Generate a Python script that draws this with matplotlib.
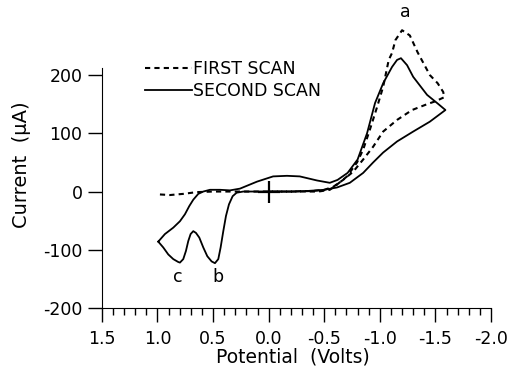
import numpy as np
import matplotlib
matplotlib.use('Agg')
import matplotlib.pyplot as plt
from matplotlib.ticker import MultipleLocator

plt.rcParams['axes.unicode_minus'] = False

# Primeira varredura (tracejada): potencial (V) e corrente (uA)
pot_primeira = [0.978, 0.888, 0.768, 0.648, 0.50, 0.30, 0.10, -0.10, -0.30,
                -0.45, -0.55, -0.615, -0.705, -0.795, -0.85, -0.91, -0.975,
                -1.03, -1.08, -1.11, -1.14, -1.20, -1.27, -1.34, -1.45, -1.52,
                -1.57, -1.58, -1.50, -1.425, -1.29, -1.155, -1.03, -0.94,
                -0.85, -0.76, -0.67, -0.58, -0.50, -0.40, -0.20, 0.0]
cor_primeira = [-5, -6, -4, -1, 0, 0, 0, 0, 0,
                0, 3, 12, 26, 50, 72, 106, 145,
                180, 226, 238, 260, 277, 268, 239, 200, 186,
                171, 162, 155, 150, 140, 123, 103, 77,
                55, 34, 20, 8, 3, 1, 0, 0]

# Segunda varredura (linha continua)
pot_segunda = [0.993, 0.933, 0.858, 0.798, 0.753, 0.714, 0.678, 0.633, 0.588,
               0.528, 0.438, 0.348, 0.258, 0.105, -0.04, -0.165, -0.28,
               -0.435, -0.55, -0.62, -0.71, -0.80, -0.885, -0.957, -1.03,
               -1.11, -1.155, -1.19, -1.245, -1.30, -1.425, -1.515, -1.59,
               -1.45, -1.30, -1.155, -1.03, -0.94, -0.85, -0.73, -0.615,
               -0.50, -0.35, -0.20, 0.0, 0.15, 0.228, 0.288, 0.324, 0.357,
               0.384, 0.408, 0.432, 0.453, 0.483, 0.513, 0.552, 0.588, 0.624,
               0.654, 0.678, 0.702, 0.723, 0.744, 0.768, 0.798, 0.813, 0.858,
               0.903, 0.948, 0.993]
cor_segunda = [-86, -73, -62, -51, -39, -25, -14, -4, 0,
               3, 3, 2, 5, 17, 26, 27, 26,
               19, 15, 20, 32, 55, 100, 152, 186,
               214, 226, 229, 217, 197, 166, 152, 140,
               120, 103, 86, 67, 50, 32, 15, 7,
               3, 1, 0, 0, 0, 0, -2, -8, -22,
               -42, -68, -96, -116, -123, -120, -111, -96, -79,
               -71, -68, -73, -85, -102, -116, -122, -121, -116,
               -108, -96, -86]

# Rotulos dos picos
picos = ['a', 'b', 'c']
pot_picos = [-1.227, 0.456, 0.816]
cor_picos = [308, -147, -147]

fig = plt.figure(figsize=(5.12, 3.68), dpi=100)
ax = fig.add_axes([0.199, 0.163, 0.760, 0.652])

ax.plot(pot_primeira, cor_primeira, color='black', lw=1.5,
        linestyle=(0, (2.5, 2)), label='FIRST SCAN', clip_on=False)
ax.plot(pot_segunda, cor_segunda, color='black', lw=1.3, label='SECOND SCAN',
        clip_on=False)

# Marca do potencial inicial
ax.plot([0.0], [0.0], marker='+', color='black', markersize=16, mew=1.6)

for rot, x, y in zip(picos, pot_picos, cor_picos):
    ax.text(x, y, rot, fontsize=12.5, ha='center', va='center', clip_on=False)

ax.set_xlim(1.5, -2.0)
ax.set_ylim(-200, 212)
ax.xaxis.set_major_locator(MultipleLocator(0.5))
ax.xaxis.set_minor_locator(MultipleLocator(0.1))
ax.yaxis.set_major_locator(MultipleLocator(100))
ax.xaxis.set_major_formatter(plt.FuncFormatter(lambda v, p: f'{v:.1f}'))

ax.spines['top'].set_visible(False)
ax.spines['right'].set_visible(False)
ax.tick_params(axis='x', which='major', length=10, width=1, pad=6, labelsize=12.5)
ax.tick_params(axis='x', which='minor', length=5, width=1)
ax.tick_params(axis='y', which='major', length=10, width=1, pad=4, labelsize=12.5)

ax.set_xlabel('Potential  (Volts)', fontsize=13.5)
ax.set_ylabel('Current  (µA)', fontsize=14)
ax.xaxis.set_label_coords(0.49, -0.165)
ax.yaxis.set_label_coords(-0.183, 0.596)

ax.legend(loc='upper left', bbox_to_anchor=(0.07, 1.10), frameon=False,
          fontsize=12.5, handlelength=2.7, handletextpad=0.1, labelspacing=0.25)

plt.savefig('out.png', dpi=100)
